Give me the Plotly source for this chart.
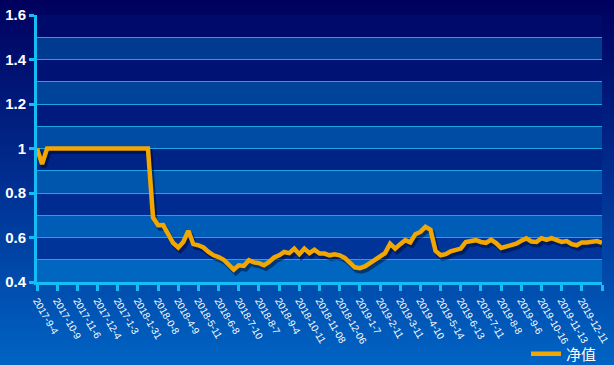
import base64
import plotly.graph_objects as go

# ---- data ----
tick_labels = ["2017-9-4", "2017-10-9", "2017-11-6", "2017-12-4", "2017-1-3", "2018-1-31",
               "2018-0-8", "2018-4-9", "2018-5-11", "2018-6-8", "2018-7-10", "2018-8-7",
               "2018-9-4", "2018-10-11", "2018-11-08", "2018-12-06", "2019-1-7", "2019-2-11",
               "2019-3-11", "2019-4-10", "2019-5-14", "2019-6-13", "2019-7-11", "2019-8-8",
               "2019-9-6", "2019-10-16", "2019-11-13", "2019-12-11"]
# net value, sampled four times per labelled period
net_value = [1.0, 0.93, 1.0, 1.0, 1.0, 1.0, 1.0, 1.0, 1.0, 1.0,
             1.0, 1.0, 1.0, 1.0, 1.0, 1.0, 1.0, 1.0, 1.0, 1.0,
             1.0, 1.0, 1.0, 0.69, 0.655, 0.656, 0.62, 0.575, 0.555, 0.58,
             0.63, 0.57, 0.565, 0.555, 0.535, 0.52, 0.512, 0.5, 0.478, 0.455,
             0.475, 0.472, 0.498, 0.488, 0.485, 0.475, 0.49, 0.51, 0.52, 0.535,
             0.53, 0.55, 0.525, 0.55, 0.53, 0.545, 0.528, 0.528, 0.52, 0.525,
             0.52, 0.508, 0.487, 0.466, 0.462, 0.47, 0.485, 0.5, 0.515, 0.53,
             0.572, 0.55, 0.57, 0.588, 0.578, 0.615, 0.625, 0.648, 0.635, 0.54,
             0.52, 0.525, 0.538, 0.544, 0.55, 0.58, 0.585, 0.588, 0.58, 0.576,
             0.59, 0.575, 0.553, 0.558, 0.564, 0.572, 0.585, 0.596, 0.582, 0.58,
             0.597, 0.589, 0.597, 0.588, 0.58, 0.584, 0.57, 0.565, 0.578, 0.578,
             0.58, 0.584, 0.576]
series_name = "净值"
y_ticks = [0.4, 0.6, 0.8, 1.0, 1.2, 1.4, 1.6]
y_tick_text = ["0.4", "0.6", "0.8", "1", "1.2", "1.4", "1.6"]

# ---- layout geometry ----
W, H = 614, 365
ML, MR, MT, MB = 37, 12, 15, 83
PW, PH = W - ML - MR, H - MT - MB
STEP = 4
n_last = len(net_value) - 1
x_range = [0, n_last]
y_range = [0.4, 1.6]
px_x = n_last / PW
px_y = (y_range[1] - y_range[0]) / PH

LINE = "#F2A600"
AXIS = "#14BDF5"
GRID = "#1AA6E6"

# page gradient as svg image
svg = ('<svg xmlns="http://www.w3.org/2000/svg" width="100" height="100" preserveAspectRatio="none">'
       '<defs><linearGradient id="g" x1="0" y1="0" x2="0" y2="1">'
       '<stop offset="0" stop-color="#00005E"/><stop offset="0.45" stop-color="#002A8C"/>'
       '<stop offset="1" stop-color="#0064C4"/></linearGradient></defs>'
       '<rect width="100" height="100" fill="url(#g)"/></svg>')
src = "data:image/svg+xml;base64," + base64.b64encode(svg.encode()).decode()


def lerp(c0, c1, t):
    return "rgb(%d,%d,%d)" % tuple(round(a + (b - a) * t) for a, b in zip(c0, c1))


shapes = []
nb = 12
for k in range(nb):
    top = 1.6 - 0.1 * k
    t = k / (nb - 1)
    if k % 2 == 0:
        col = lerp((0, 10, 106), (0, 56, 158), t)
    else:
        col = lerp((0, 54, 140), (0, 102, 192), t)
    shapes.append(dict(type="rect", xref="paper", x0=0, x1=1, yref="y", y0=top - 0.1, y1=top,
                       fillcolor=col, line=dict(width=0), layer="below"))

fig = go.Figure()
# shadow
fig.add_trace(go.Scatter(y=net_value, mode="lines", xaxis="x2", yaxis="y2",
                         line=dict(color="rgba(0,0,30,0.45)", width=5),
                         showlegend=False, hoverinfo="skip"))
# main line
fig.add_trace(go.Scatter(y=net_value, mode="lines", name=series_name, xaxis="x3", yaxis="y3",
                         line=dict(color=LINE, width=4.5)))

tickvals = list(range(0, n_last + 1, STEP))
ticktext = tick_labels + [""] * (len(tickvals) - len(tick_labels))

fig.update_layout(
    width=W, height=H,
    margin=dict(l=ML, r=MR, t=MT, b=MB, autoexpand=False),
    paper_bgcolor="rgba(0,0,0,0)", plot_bgcolor="rgba(0,0,0,0)",
    images=[dict(source=src, xref="paper", yref="paper", x=-ML / PW, y=1 + MT / PH,
                 sizex=W / PW, sizey=H / PH, xanchor="left", yanchor="top",
                 sizing="stretch", layer="below")],
    shapes=shapes,
    xaxis=dict(range=x_range, tickvals=tickvals, ticktext=ticktext, tickangle=60,
               automargin=False,
               showgrid=False, zeroline=False, showline=True, linecolor=AXIS, linewidth=3,
               ticks="outside", ticklen=6, tickwidth=3, tickcolor=AXIS,
               tickfont=dict(family="Liberation Sans", size=10, color="white")),
    yaxis=dict(range=y_range, tickvals=y_ticks, ticktext=y_tick_text, automargin=False,
               showgrid=True, gridcolor=GRID, gridwidth=1, zeroline=False,
               showline=True, linecolor=AXIS, linewidth=3,
               ticks="outside", ticklen=5, tickwidth=3, tickcolor=AXIS,
               minor=dict(dtick=0.1, tick0=0.4, showgrid=True, gridcolor=GRID, gridwidth=1, ticks=""),
               tickfont=dict(family="Liberation Sans", size=15, color="white", weight="bold")),
    xaxis2=dict(range=[x_range[0] - 2 * px_x, x_range[1] - 2 * px_x], overlaying="x", visible=False),
    yaxis2=dict(range=[y_range[0] + 3 * px_y, y_range[1] + 3 * px_y], overlaying="y", visible=False),
    xaxis3=dict(range=x_range, overlaying="x", visible=False),
    yaxis3=dict(range=y_range, overlaying="y", visible=False),
    showlegend=True,
    legend=dict(orientation="h", x=1.0, xanchor="right", y=-0.27, yanchor="middle",
                bgcolor="rgba(0,0,0,0)",
                font=dict(family="Noto Sans CJK SC", size=15, color="white")),
)

fig.write_html("out.html", config={"displayModeBar": False},
               post_script="document.body.style.margin='0';document.body.style.background='#0064C4';")
